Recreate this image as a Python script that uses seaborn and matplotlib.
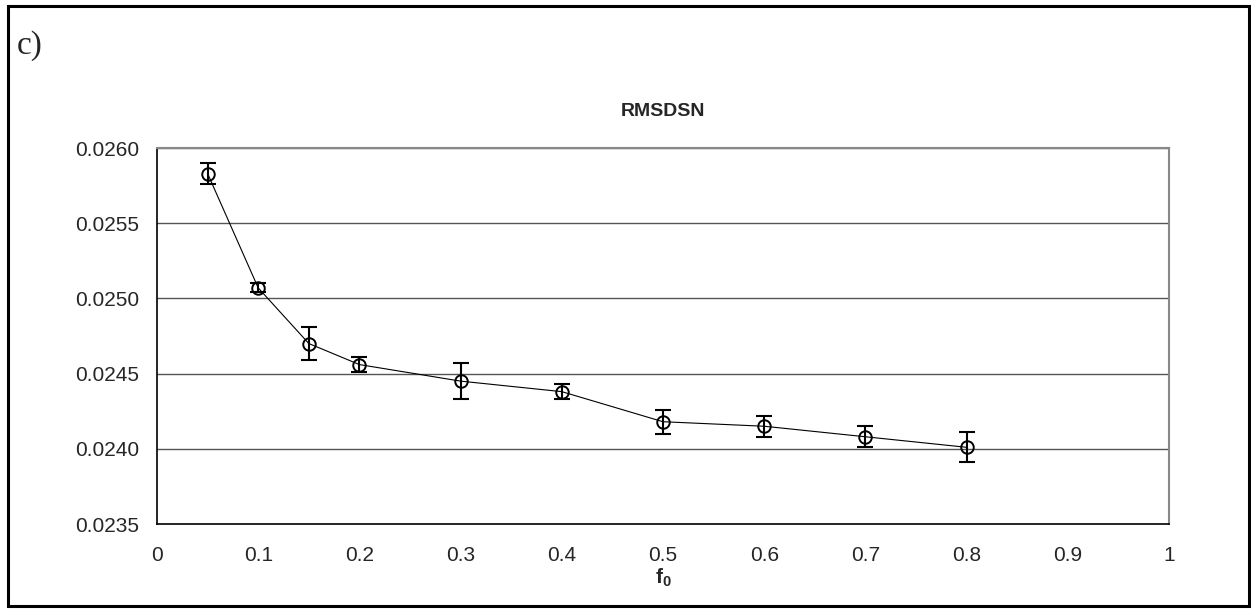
import matplotlib
matplotlib.use("Agg")
import matplotlib.pyplot as plt
import matplotlib.patches as mpatches
import seaborn as sns
import pandas as pd

# values
f0 = [0.05, 0.1, 0.15, 0.2, 0.3, 0.4, 0.5, 0.6, 0.7, 0.8]
rmsdsn = [0.02583, 0.02507, 0.02470, 0.02456, 0.02445, 0.02438, 0.02418, 0.02415, 0.02408, 0.02401]
err = [0.00007, 0.00003, 0.00011, 0.00005, 0.00012, 0.00005, 0.00008, 0.00007, 0.00007, 0.00010]
x_ticks = [0, 0.1, 0.2, 0.3, 0.4, 0.5, 0.6, 0.7, 0.8, 0.9, 1]
x_ticklabels = ["0", "0.1", "0.2", "0.3", "0.4", "0.5", "0.6", "0.7", "0.8", "0.9", "1"]
y_ticks = [0.0235, 0.0240, 0.0245, 0.0250, 0.0255, 0.0260]

df = pd.DataFrame({"f0": f0, "rmsdsn": rmsdsn, "err": err})

sns.set_style("white")
plt.rcParams["font.family"] = ["Liberation Sans", "DejaVu Sans"]
plt.rcParams["mathtext.fontset"] = "custom"
plt.rcParams["mathtext.bf"] = "Liberation Sans:bold"
plt.rcParams["mathtext.rm"] = "Liberation Sans"

fig = plt.figure(figsize=(12.51, 6.09), dpi=100)
W, H = 1251, 609
ax = fig.add_axes([157 / W, 1 - 524 / H, (1169 - 157) / W, 376 / H])

# outer frame of the panel
fig.patches.append(mpatches.Rectangle((8 / W, 1 - 606 / H), (1249 - 8) / W, (606 - 6) / H,
                                      transform=fig.transFigure, fill=False,
                                      edgecolor="black", linewidth=2.2, zorder=0))
fig.text(17 / W, 1 - 46 / H, "c)", family=["Liberation Serif", "DejaVu Serif"],
         fontsize=24, va="center", ha="left")

# grid lines
for yv in y_ticks[1:]:
    ax.axhline(yv, color="#555555", linewidth=1.0, zorder=1)

sns.lineplot(data=df, x="f0", y="rmsdsn", ax=ax, color="black", linewidth=0.8,
             marker="o", markersize=9, markerfacecolor="none",
             markeredgecolor="black", markeredgewidth=1.4, zorder=3)
ax.errorbar(df["f0"], df["rmsdsn"], yerr=df["err"], fmt="none", ecolor="black",
            elinewidth=1.5, capsize=6, capthick=1.5, zorder=4)

ax.set_xlim(0, 1)
ax.set_ylim(0.0235, 0.0260)
ax.set_xticks(x_ticks)
ax.set_xticklabels(x_ticklabels)
ax.set_yticks(y_ticks)
ax.set_yticklabels([f"{v:.4f}" for v in y_ticks])
ax.tick_params(axis="both", direction="out", length=5, width=1, color="black",
               labelsize=15, pad=8)
ax.tick_params(axis="x", pad=11)

for side in ["left", "bottom"]:
    ax.spines[side].set_color("black")
    ax.spines[side].set_linewidth(1.2)
for side in ["top", "right"]:
    ax.spines[side].set_color("#888888")
    ax.spines[side].set_linewidth(1.5)

ax.set_title("RMSDSN", fontsize=14, fontweight="bold", pad=23)
ax.set_xlabel(r"$\mathbf{f_0}$", fontsize=15, labelpad=1)
ax.set_ylabel("")

fig.savefig("out.png", dpi=100)
